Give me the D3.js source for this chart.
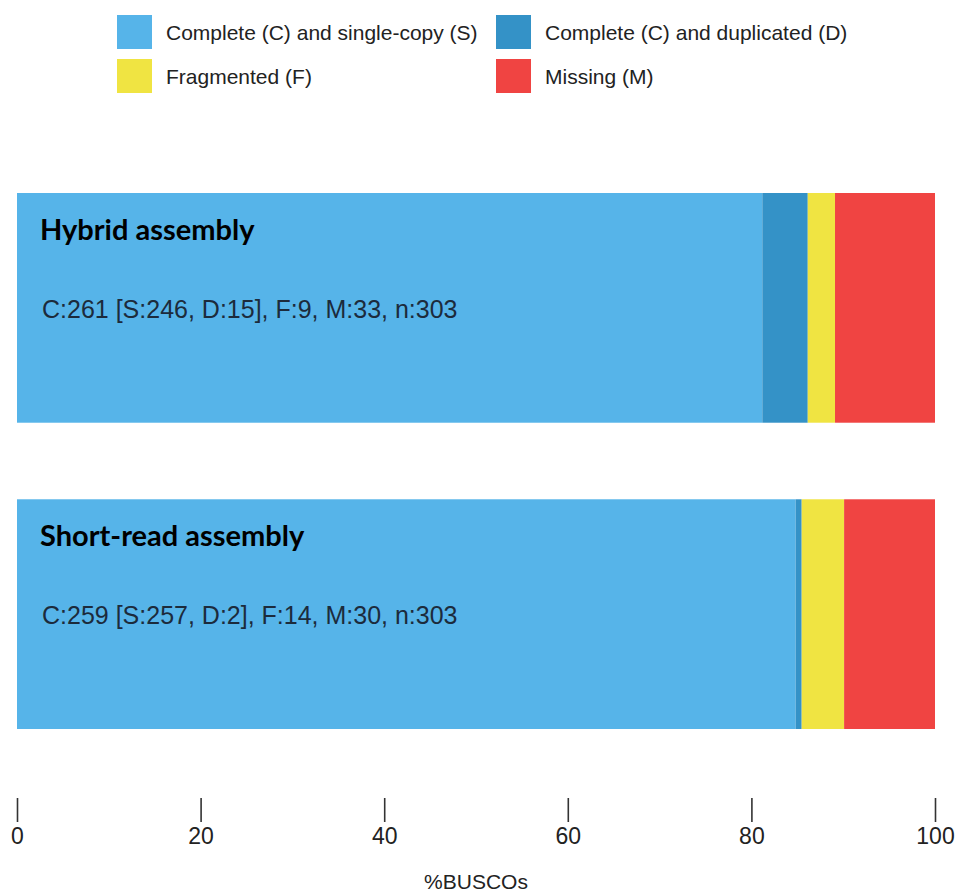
<!DOCTYPE html>
<html>
<head>
<meta charset="utf-8">
<script src="https://cdn.jsdelivr.net/npm/d3@7"></script>
<style>
  html, body { margin: 0; padding: 0; background: #fff; }
  svg { display: block; }
</style>
</head>
<body>
<svg id="chart" width="958" height="895"></svg>
<script>
// BUSCO completeness for two assemblies (counts out of n)
const assemblies = ["Hybrid assembly", "Short-read assembly"];
const singleCopy = [246, 257];
const duplicated = [15, 2];
const fragmented = [9, 14];
const missing = [33, 30];
const totals = [303, 303];

const categoryKeys = ["S", "D", "F", "M"];
const categoryLabels = [
  "Complete (C) and single-copy (S)",
  "Complete (C) and duplicated (D)",
  "Fragmented (F)",
  "Missing (M)"
];
const categoryColors = ["#56B4E9", "#3492C7", "#F0E442", "#F04442"];
const xTicks = [0, 20, 40, 60, 80, 100];

const rows = assemblies.map((name, i) => ({
  name,
  S: singleCopy[i] / totals[i] * 100,
  D: duplicated[i] / totals[i] * 100,
  F: fragmented[i] / totals[i] * 100,
  M: missing[i] / totals[i] * 100,
  summary: `C:${singleCopy[i] + duplicated[i]} [S:${singleCopy[i]}, D:${duplicated[i]}], F:${fragmented[i]}, M:${missing[i]}, n:${totals[i]}`
}));

const svg = d3.select("#chart");
const sans = "'Liberation Sans', Arial, Helvetica, sans-serif";

const x = d3.scaleLinear().domain([0, 100]).range([17, 935]);
const y = d3.scaleBand().domain(assemblies).range([193, 729]).paddingInner(0.25).paddingOuter(0);
const color = d3.scaleOrdinal().domain(categoryKeys).range(categoryColors);

const stacked = d3.stack().keys(categoryKeys)(rows);

// stacked bars
svg.append("g")
  .selectAll("g")
  .data(stacked)
  .join("g")
  .attr("fill", d => color(d.key))
  .selectAll("rect")
  .data(d => d)
  .join("rect")
  .attr("x", d => x(d[0]))
  .attr("width", d => x(d[1]) - x(d[0]))
  .attr("y", d => y(d.data.name))
  .attr("height", y.bandwidth());

// labels inside bars
const labels = svg.append("g").selectAll("g").data(rows).join("g")
  .attr("transform", d => `translate(0,${y(d.name)})`);
labels.append("text")
  .attr("x", 40).attr("y", 47)
  .attr("font-family", "Lato, 'Open Sans', sans-serif")
  .attr("font-weight", 700)
  .attr("font-size", 29)
  .attr("fill", "#000")
  .text(d => d.name);
labels.append("text")
  .attr("x", 42).attr("y", 125)
  .attr("font-family", sans)
  .attr("font-size", 25)
  .attr("fill", "#1c2b3c")
  .text(d => d.summary);

// x axis
const axis = svg.append("g")
  .attr("transform", "translate(0,798)")
  .call(d3.axisBottom(x).tickValues(xTicks).tickSize(24).tickPadding(6).tickFormat(d3.format("d")));
axis.select(".domain").remove();
axis.selectAll(".tick line").attr("stroke", "#333").attr("stroke-width", 1.6);
axis.selectAll(".tick text")
  .attr("font-family", sans)
  .attr("font-size", 23)
  .attr("fill", "#222");

svg.append("text")
  .attr("x", 476).attr("y", 889)
  .attr("text-anchor", "middle")
  .attr("font-family", sans)
  .attr("font-size", 21)
  .attr("fill", "#222")
  .text("%BUSCOs");

// legend: two columns, two rows
const legendPos = [[117, 15], [496, 15], [117, 59], [496, 59]];
const legend = svg.append("g").selectAll("g").data(categoryKeys).join("g")
  .attr("transform", (d, i) => `translate(${legendPos[i][0]},${legendPos[i][1]})`);
legend.append("rect")
  .attr("width", 35).attr("height", 34)
  .attr("fill", d => color(d));
legend.append("text")
  .attr("x", 49).attr("y", 25)
  .attr("font-family", sans)
  .attr("font-size", 21)
  .attr("fill", "#222")
  .text((d, i) => categoryLabels[i]);
</script>
</body>
</html>
